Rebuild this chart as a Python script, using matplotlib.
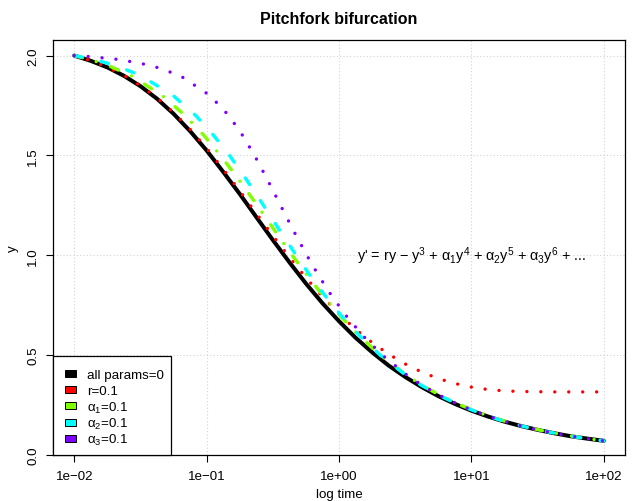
import matplotlib

matplotlib.use("Agg")
import matplotlib.pyplot as plt  # noqa: E402
from matplotlib.patches import Rectangle  # noqa: E402

# black (all params 0) and red (r=0.1) on a log time grid
t_grid = [0.01, 0.0133, 0.0178, 0.0237, 0.0316, 0.0422, 0.0562, 0.0750, 0.1,
          0.133, 0.178, 0.237, 0.316, 0.422, 0.562, 0.750, 1.0, 1.33, 1.78, 2.37,
          3.16, 4.22, 5.62, 7.50, 10.0, 13.3, 17.8, 23.7, 31.6, 42.2, 56.2, 75.0, 100.0]
y_base = [2.0, 1.974, 1.941, 1.899, 1.847, 1.784, 1.709, 1.622, 1.525,
          1.419, 1.307, 1.192, 1.077, 0.965, 0.859, 0.760, 0.670, 0.588, 0.514, 0.448,
          0.391, 0.340, 0.295, 0.256, 0.222, 0.193, 0.167, 0.145, 0.126, 0.109, 0.094, 0.082, 0.071]
y_r = [2.0, 1.975, 1.942, 1.901, 1.850, 1.789, 1.716, 1.631, 1.536,
       1.432, 1.322, 1.210, 1.098, 0.990, 0.888, 0.793, 0.707, 0.630, 0.563, 0.505,
       0.456, 0.415, 0.383, 0.358, 0.340, 0.328, 0.321, 0.318, 0.317, 0.316, 0.316, 0.316, 0.316]

# alpha curves: time at which each curve passes a given level of y
y_a1 = [2.0, 1.98, 1.95, 1.9, 1.8, 1.7, 1.6, 1.5, 1.4, 1.3, 1.2, 1.1, 1.0,
        0.9, 0.8, 0.7, 0.6, 0.5, 0.4, 0.35, 0.3, 0.25, 0.2, 0.175, 0.15,
        0.125, 0.1, 0.085, 0.0712]
t_a1 = [0.01, 0.0132, 0.0181, 0.0268, 0.0462, 0.0688, 0.0955, 0.127, 0.166, 0.213,
        0.272, 0.346, 0.443, 0.573, 0.752, 1.010, 1.404, 2.051, 3.228, 4.222, 5.745,
        8.258, 12.86, 16.76, 22.75, 32.66, 50.87, 70.25, 100.0]
y_a2 = [2.0, 1.98, 1.95, 1.9, 1.8, 1.7, 1.6, 1.5, 1.4, 1.3, 1.2, 1.1, 1.0,
        0.9, 0.8, 0.7, 0.6, 0.5, 0.4, 0.35, 0.3, 0.25, 0.2, 0.175, 0.15,
        0.125, 0.1, 0.085, 0.0708]
t_a2 = [0.01, 0.0142, 0.0206, 0.0318, 0.0558, 0.0827, 0.113, 0.149, 0.190, 0.240,
        0.301, 0.377, 0.475, 0.603, 0.780, 1.033, 1.418, 2.048, 3.196, 4.166, 5.655,
        8.118, 12.64, 16.48, 22.39, 32.19, 50.21, 69.43, 100.0]
y_a3 = [2.0, 1.995, 1.98, 1.95, 1.9, 1.8, 1.7, 1.6, 1.5, 1.4, 1.3, 1.2, 1.1, 1.0,
        0.9, 0.8, 0.7, 0.6, 0.5, 0.4, 0.35, 0.3, 0.25, 0.2, 0.175, 0.15,
        0.125, 0.1, 0.085, 0.0708]
t_a3 = [0.01, 0.0131, 0.0221, 0.0385, 0.0630, 0.106, 0.147, 0.187, 0.230, 0.277,
        0.331, 0.395, 0.473, 0.571, 0.699, 0.874, 1.123, 1.502, 2.124, 3.259, 4.220,
        5.699, 8.149, 12.65, 16.48, 22.38, 32.16, 50.16, 69.37, 100.0]

labels = ["all params=0", "r=0.1", r"$\alpha_1$=0.1", r"$\alpha_2$=0.1", r"$\alpha_3$=0.1"]
colors = ["black", "#FF0000", "#80FF00", "#00FFFF", "#8000FF"]
x_ticks = [0.01, 0.1, 1, 10, 100]
x_ticklabels = ["1e\u221202", "1e\u221201", "1e+00", "1e+01", "1e+02"]
y_ticks = [0.0, 0.5, 1.0, 1.5, 2.0]

plt.rcParams["font.family"] = ["Liberation Sans", "DejaVu Sans"]
plt.rcParams["mathtext.fontset"] = "custom"
plt.rcParams["mathtext.rm"] = "Liberation Sans"
plt.rcParams["mathtext.it"] = "Liberation Sans"
plt.rcParams["mathtext.bf"] = "Liberation Sans:bold"

fig = plt.figure(figsize=(6.35, 5.02), dpi=100)
ax = fig.add_axes([0.0835, 0.0916, 0.9008, 0.8267])
ax.set_xscale("log")
ax.set_xlim(10 ** -2.16, 10 ** 2.16)
ax.set_ylim(0.0, 2.078)

ax.grid(True, color="#d3d3d3", linestyle=(0, (1, 2)), linewidth=0.8)
ax.set_axisbelow(True)

lw = 2.45
ax.plot(t_grid, y_base, color=colors[0], lw=2.9, solid_capstyle="round",
        solid_joinstyle="round", zorder=3)
ax.plot(t_grid, y_r, color=colors[1], lw=lw, linestyle=(0, (0.001, 4.1)),
        dash_capstyle="round", zorder=4)
ax.plot(t_a1, y_a1, color=colors[2], lw=lw, linestyle=(0, (2.5, 4.2, 0.001, 4.5)),
        dash_capstyle="round", zorder=5)
ax.plot(t_a2, y_a2, color=colors[3], lw=lw, linestyle=(0, (2.3, 5.7)),
        dash_capstyle="round", zorder=6)
ax.plot(t_a3, y_a3, color=colors[4], lw=lw, linestyle=(0, (0.001, 4.1)),
        dash_capstyle="round", zorder=7)

eq = ("y' = ry \u2212 y$^3$ + $\\alpha_1$y$^4$ + $\\alpha_2$y$^5$"
      " + $\\alpha_3$y$^6$ + ...")
ax.text(10, 1.0, eq, ha="center", va="center", fontsize=10.4)

ax.set_xticks(x_ticks)
ax.set_xticklabels(x_ticklabels)
ax.minorticks_off()
ax.set_yticks(y_ticks)
ax.set_yticklabels([f"{v:.1f}" for v in y_ticks], rotation=90, va="center")
ax.tick_params(axis="both", direction="out", length=5, width=0.8, labelsize=9.6, pad=5)
ax.tick_params(axis="x", pad=6)
for s in ax.spines.values():
    s.set_linewidth(0.9)

ax.set_xlabel("log time", fontsize=9.6, labelpad=4)
ax.set_ylabel("y", fontsize=9.6, labelpad=6)
ax.set_title("Pitchfork bifurcation", fontsize=11.5, fontweight="bold", pad=12)

# legend box drawn by hand so the rows stay evenly spaced like R's legend()
ax_w, ax_h = 572.0, 415.0  # axes size in pixels
box = Rectangle((0, 0), 118 / ax_w, 99 / ax_h, transform=ax.transAxes,
                facecolor="white", edgecolor="black", linewidth=0.9, zorder=10,
                clip_on=False)
ax.add_patch(box)
for i, (lab, col) in enumerate(zip(labels, colors)):
    row = (82 - 16.4 * i) / ax_h  # row centre above the bottom spine
    ax.add_patch(Rectangle((12 / ax_w, row - 3.5 / ax_h), 11 / ax_w, 7 / ax_h,
                           transform=ax.transAxes, facecolor=col, edgecolor="black",
                           linewidth=0.7, zorder=11))
    ax.text(34 / ax_w, row - 4.6 / ax_h, lab, transform=ax.transAxes, ha="left",
            va="baseline", fontsize=9.6, zorder=11)

fig.savefig("out.png", dpi=100)
